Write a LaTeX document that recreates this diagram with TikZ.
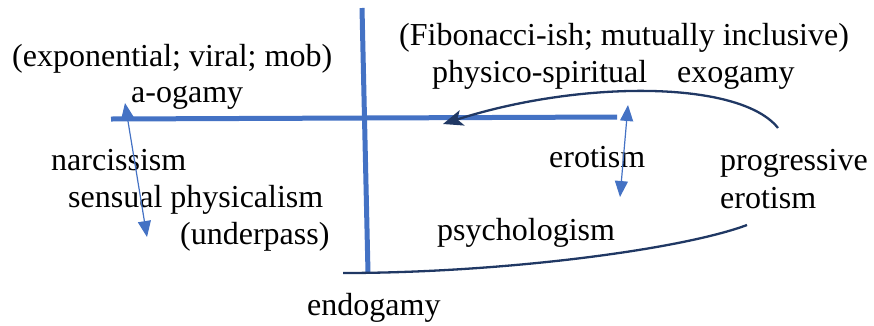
\documentclass[tikz,border=0pt]{standalone}
\usepackage{fontspec}
\setmainfont{Liberation Serif}
\usetikzlibrary{arrows.meta}
\definecolor{axisblue}{HTML}{4472C4}
\definecolor{sweepnavy}{HTML}{203864}

\begin{document}
\begin{tikzpicture}[x=1pt,y=-1pt,
  word node/.style={anchor=base west,inner sep=0pt,
    font=\rmfamily\fontsize{32}{37}\selectfont},
  axis line/.style={draw=axisblue,line width=5pt},
  swing/.style={draw=axisblue,line width=1.2pt,
    {Triangle[length=16pt,width=13pt]}-{Triangle[length=16pt,width=13pt]}},
  sweep/.style={draw=sweepnavy,line width=2.3pt}]

  \useasboundingbox (0,0) rectangle (874,325);

  % axes
  \coordinate (AxisTop) at (362,8);
  \coordinate (AxisBottom) at (368,273);
  \coordinate (AxisLeft) at (111,119);
  \coordinate (AxisRight) at (617,117);
  \draw[axis line] (AxisTop) -- (AxisBottom);
  \draw[axis line] (AxisLeft) -- (AxisRight);

  % left quadrant
  \node[word node] (Mob) at (12,66) {(exponential; viral; mob)};
  \node[word node] (Aogamy) at (131,102) {a-ogamy};
  \node[word node] (Narcissism) at (51,170) {narcissism};
  \node[word node] (Sensual) at (68,207) {sensual physicalism};
  \node[word node] (Underpass) at (180,244) {(underpass)};
  \node[word node] (Endogamy) at (307,315) {endogamy};

  % right quadrant
  \node[word node] (Fibonacci) at (399,45) {(Fibonacci-ish; mutually inclusive)};
  \node[word node] (Physico) at (432,82) {physico-spiritual};
  \node[word node] (Exogamy) at (677,82) {exogamy};
  \node[word node] (Erotism) at (549,167) {erotism};
  \node[word node] (Progressive) at (720,170) {progressive};
  \node[word node] (ProgErotism) at (720,208) {erotism};
  \node[word node] (Psychologism) at (437,240) {psychologism};

  % swings
  \coordinate (LeftUp) at (125,103);
  \coordinate (LeftDown) at (147,237);
  \coordinate (RightUp) at (628,105);
  \coordinate (RightDown) at (620,197);
  \draw[swing] (LeftUp) -- (LeftDown);
  \draw[swing] (RightUp) -- (RightDown);

  % sweeps
  \coordinate (SweepTop) at (778,128);
  \coordinate (SweepTip) at (443,124);
  \coordinate (SweepLow) at (747,225);
  \coordinate (SweepBase) at (343,273);
  \draw[sweep,-{Stealth[length=20pt,width=16pt,inset=5pt]}] (SweepTop)
    .. controls (740,80) and (580,80) .. (SweepTip);
  \draw[sweep] (SweepLow) .. controls (680,250) and (500,273) .. (SweepBase);
\end{tikzpicture}
\end{document}
